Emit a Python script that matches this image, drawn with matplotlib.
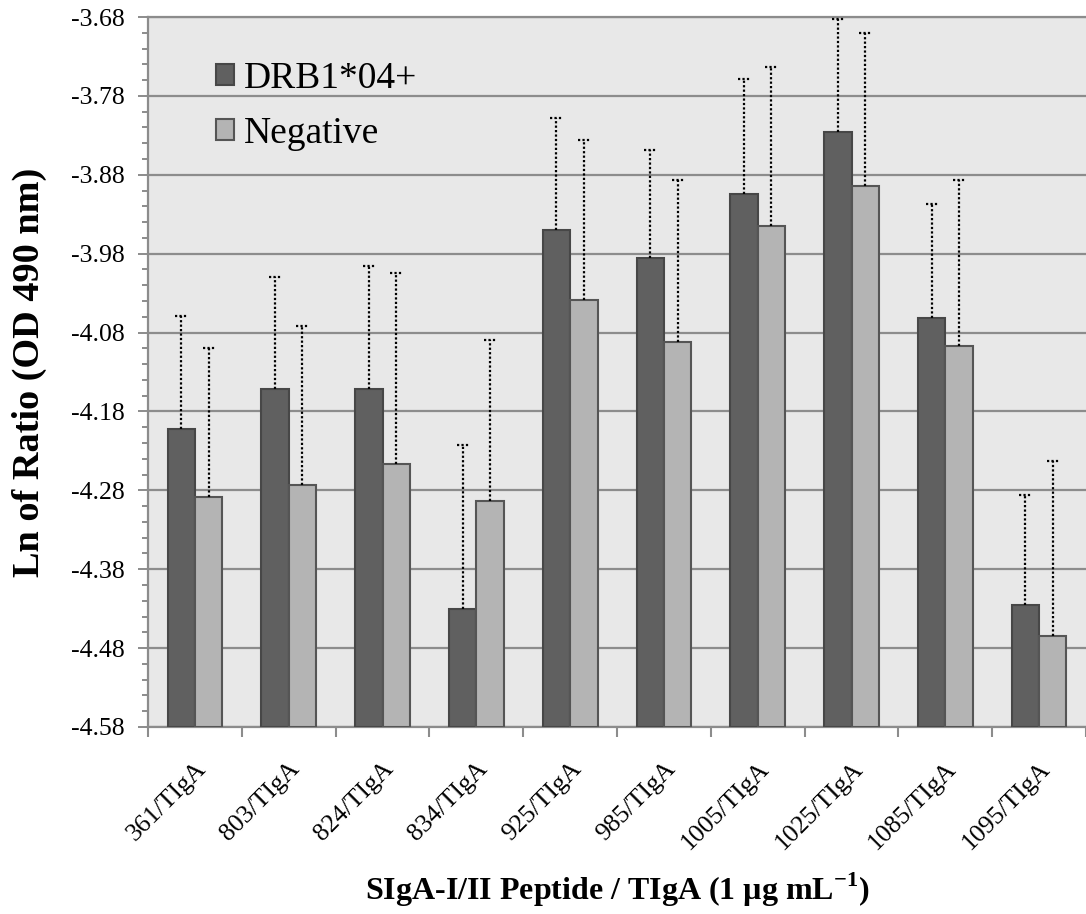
import matplotlib.pyplot as plt
import numpy as np

plt.rcParams['font.family'] = ['Liberation Serif', 'DejaVu Serif']
plt.rcParams['mathtext.fontset'] = 'custom'
plt.rcParams['mathtext.rm'] = 'Liberation Serif'
plt.rcParams['mathtext.bf'] = 'Liberation Serif:bold'

# peptide groups
labels = ['361/TIgA', '803/TIgA', '824/TIgA', '834/TIgA', '925/TIgA',
          '985/TIgA', '1005/TIgA', '1025/TIgA', '1085/TIgA', '1095/TIgA']

# mean Ln(ratio) and upper error for each group
drb = [-4.202, -4.152, -4.152, -4.430, -3.950, -3.985, -3.904, -3.826, -4.061, -4.425]
drb_err = [0.143, 0.142, 0.156, 0.207, 0.142, 0.136, 0.146, 0.144, 0.144, 0.139]
neg = [-4.288, -4.273, -4.246, -4.294, -4.039, -4.092, -3.945, -3.894, -4.097, -4.465]
neg_err = [0.189, 0.201, 0.242, 0.205, 0.203, 0.205, 0.202, 0.194, 0.210, 0.222]

ymin, ymax = -4.58, -3.68

fig = plt.figure(figsize=(10.86, 9.14), dpi=100)
ax = fig.add_axes([0.1363, 0.2046, 0.8637, 0.7768])
ax.set_facecolor('#e8e8e8')

x = np.arange(len(labels))
w = 0.292
grid_c = '#8c8c8c'

# bars start at the axis floor
ax.bar(x - w / 2, np.array(drb) - ymin, w, bottom=ymin, color='#606060',
       edgecolor='#474747', linewidth=1.5, label='DRB1*04+', zorder=3)
ax.bar(x + w / 2, np.array(neg) - ymin, w, bottom=ymin, color='#b4b4b4',
       edgecolor='#555555', linewidth=1.5, label='Negative', zorder=3)

# upward dotted error bars with dotted caps
cap = 0.065
for xs, vals, errs in [(x - w / 2, drb, drb_err), (x + w / 2, neg, neg_err)]:
    tops = np.array(vals) + np.array(errs)
    ax.vlines(xs, vals, tops, colors='black', linestyles=(0, (1, 1)), linewidth=1.6, zorder=4)
    ax.hlines(tops, xs - cap, xs + cap, colors='black', linestyles=(0, (1, 1)), linewidth=1.6, zorder=4)

ax.set_ylim(ymin, ymax)
ax.set_xlim(-0.5, 9.5)

yt = np.round(np.arange(ymin, ymax + 0.001, 0.1), 2)
ax.set_yticks(yt)
ax.set_yticklabels(['%.2f' % v for v in yt], fontsize=18.5)
ax.set_yticks(np.arange(ymin, ymax + 0.001, 0.02), minor=True)
ax.yaxis.grid(True, color=grid_c, linewidth=1.6, zorder=1)
ax.set_axisbelow(True)

# group boundaries as ticks, labels at group centres
ax.set_xticks(np.arange(-0.5, 10, 1.0))
ax.set_xticklabels([])
ax.set_xticks(x, minor=True)
ax.set_xticklabels(labels, minor=True, rotation=45, ha='right',
                   rotation_mode='anchor', fontsize=18.5)
ax.tick_params(axis='x', which='minor', length=0, pad=22)
ax.tick_params(axis='x', which='major', length=7, width=1.5, color=grid_c)
ax.tick_params(axis='y', which='major', length=7, width=1.4, color=grid_c, pad=10)
ax.tick_params(axis='y', which='minor', length=4.5, width=1.4, color=grid_c)

for s in ['left', 'bottom', 'top']:
    ax.spines[s].set_color(grid_c)
    ax.spines[s].set_linewidth(1.6)
ax.spines['right'].set_visible(False)

ax.set_ylabel('Ln of Ratio (OD 490 nm)', fontsize=27.5, fontweight='bold', labelpad=17)
ax.set_xlabel(r'SIgA-I/II Peptide / TIgA (1 µg mL$^{\mathbf{-1}}$)',
              fontsize=23, fontweight='bold', labelpad=12)

ax.legend(loc='upper left', bbox_to_anchor=(0.036, 0.985), frameon=False,
          fontsize=27, handlelength=0.5, handleheight=0.5, handletextpad=0.25,
          labelspacing=0.55)

fig.savefig('out.png', dpi=100)
